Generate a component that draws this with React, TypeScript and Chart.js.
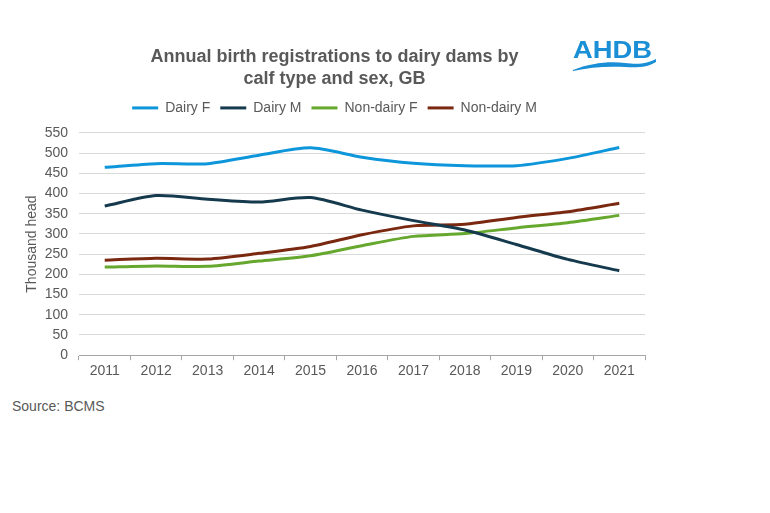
import React, { useEffect, useRef } from "react";
import { Chart, registerables } from "chart.js";

Chart.register(...registerables);

const years = ["2011", "2012", "2013", "2014", "2015", "2016", "2017", "2018", "2019", "2020", "2021"];
const dairyF = [465, 474, 474, 495, 513, 490, 475, 469, 469, 487, 514];
const dairyM = [369, 395, 386, 379, 390, 359, 333, 310, 274, 237, 209];
const nonDairyF = [218, 221, 220, 233, 246, 271, 294, 301, 315, 328, 346];
const nonDairyM = [235, 240, 238, 252, 269, 298, 320, 324, 341, 355, 376];

const seriesNames = ["Dairy F", "Dairy M", "Non-dairy F", "Non-dairy M"];
const seriesColors = ["#0E96DB", "#163A4D", "#66A82E", "#7A2810"];

const FONT = "'Liberation Sans', Arial, sans-serif";
const GREY = "#595959";

const legendMargin = {
  id: "legendMargin",
  beforeInit(chart: any) {
    const legend = chart.legend;
    if (!legend) return;
    const origFit = legend.fit;
    legend.fit = function () {
      origFit.call(this);
      this.height += 8;
    };
  },
};

export default function App() {
  const ref = useRef<HTMLCanvasElement | null>(null);

  useEffect(() => {
    if (!ref.current) return;
    const values = [dairyF, dairyM, nonDairyF, nonDairyM];
    const chart = new Chart(ref.current, {
      type: "line",
      data: {
        labels: years,
        datasets: seriesNames.map((name, i) => ({
          label: name,
          data: values[i],
          borderColor: seriesColors[i],
          backgroundColor: seriesColors[i],
          borderWidth: 3,
          pointRadius: 0,
          tension: 0.25,
          fill: false,
        })),
      },
      plugins: [legendMargin],
      options: {
        responsive: false,
        animation: false,
        layout: { padding: { top: 46, right: 23, left: 24, bottom: 7 } },
        plugins: {
          title: {
            display: true,
            text: ["Annual birth registrations to dairy dams by", "calf type and sex, GB"],
            color: GREY,
            font: { family: FONT, size: 18, weight: "bold", lineHeight: 1.22 },
            padding: { top: 0, bottom: 1 },
          },
          legend: {
            display: true,
            labels: {
              color: GREY,
              font: { family: FONT, size: 14 },
              usePointStyle: true,
              pointStyle: "line",
              pointStyleWidth: 26,
              boxHeight: 14,
              padding: 10,
            },
          },
          tooltip: { enabled: false },
        },
        scales: {
          x: {
            offset: true,
            grid: {
              offset: true,
              drawOnChartArea: false,
              drawTicks: true,
              tickLength: 5,
              color: "#A6A6A6",
            },
            border: { display: true, color: "#A6A6A6", width: 1 },
            ticks: { color: GREY, font: { family: FONT, size: 14 }, padding: 3, maxRotation: 0 },
          },
          y: {
            min: 0,
            max: 550,
            afterFit: (scale: any) => {
              scale.width = 55;
            },
            ticks: { stepSize: 50, color: GREY, font: { family: FONT, size: 14 }, padding: 11 },
            grid: { color: "#D9D9D9", lineWidth: 1, drawTicks: false },
            border: { display: false },
            title: {
              display: true,
              text: "Thousand head",
              color: GREY,
              font: { family: FONT, size: 14 },
              padding: { top: 0, bottom: 2 },
            },
          },
        },
      },
    });
    return () => chart.destroy();
  }, []);

  return (
    <div style={{ position: "fixed", left: 0, top: 0, width: 770, height: 513, background: "#fff", fontFamily: FONT }}>
      <canvas ref={ref} width={668} height={390} style={{ position: "absolute", left: 0, top: 0 }} />
      <div style={{ position: "absolute", left: 12, top: 398, fontSize: 14, color: GREY }}>Source: BCMS</div>
      <div
        style={{
          position: "absolute",
          left: 573,
          top: 38,
          fontSize: 24,
          lineHeight: "24px",
          fontWeight: "bold",
          color: "#1A8FD5",
          transform: "scaleX(1.14)",
          transformOrigin: "left top",
          whiteSpace: "nowrap",
        }}
      >
        AHDB
      </div>
      <svg width="770" height="513" style={{ position: "absolute", left: 0, top: 0, pointerEvents: "none" }}>
        <path
          d="M573 70 C 590 63, 610 61, 625 63 C 640 65, 648 63, 656 59 L 656 62 C 648 67, 638 68, 625 67 C 608 66, 590 67, 573 71 Z"
          fill="#1A8FD5"
        />
      </svg>
    </div>
  );
}
